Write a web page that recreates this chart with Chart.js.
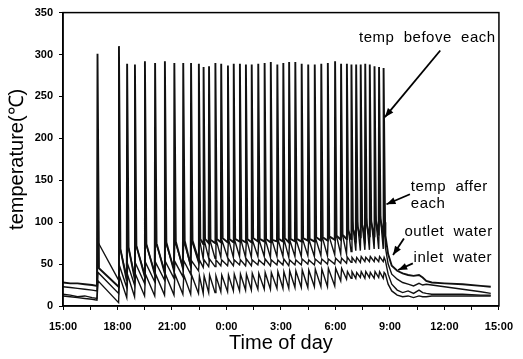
<!DOCTYPE html>
<html><head><meta charset="utf-8">
<script src="https://cdn.jsdelivr.net/npm/chart.js@4.4.1/dist/chart.umd.min.js"></script>
<style>html,body{margin:0;padding:0;background:#fff;}#wrap{width:523px;height:359px;}</style>
</head><body><div id="wrap"><canvas id="c" width="523" height="359"></canvas></div>
<script>
// ---- data (hours after 15:00) ----
const xTickLabels = ['15:00','18:00','21:00','0:00','3:00','6:00','9:00','12:00','15:00'];
const yTickValues = [0,50,100,150,200,250,300,350];

const cycleTimes = [1.88,3.06,3.51,3.94,4.49,5.05,5.59,6.11,6.60,7.03,
  7.46,7.72,8.02,8.37,8.69,9.06,9.38,9.72,10.05,10.37,10.73,11.08,11.42,11.78,12.11,12.43,
  12.77,13.12,13.48,13.84,14.20,14.56,14.96,15.29,15.61,15.86,16.12,16.37,16.62,16.87,17.13,17.38,17.63];
const spikePeaks = [301,310,289,288,292,290,292,290,290,290,
  289,285,286,290,289,287,289,289,288,288,289,290,291,288,290,291,
  291,289,288,288,289,290,292,289,289,288,288,288,289,288,286,285,284];

const beforeRest = [45, 68,70,72,74,75,76,77,78,78,
  80,80,79,80,81,80,80,79,80,81,80,80,79,80,81,80,80,81,80,82,82,83,84,85,
  90,92,95,97,98,100,102,104,100];
const beforeLow = [23, 30,33,36,38,40,42,45,48,55,
  74,75,75,76,76,76,77,76,76,77,77,76,77,77,76,77,77,78,77,78,78,79,79,80,
  80,81,82,82,83,83,84,84,84];

const afterHigh = [76, 72,74,75,76,77,77,78,78,79,
  80,79,80,80,79,80,80,81,80,79,80,80,81,80,80,79,80,81,80,82,84,86,88,90,
  100,105,108,110,112,115,112,118,120];
const afterLow = [31, 34,36,38,40,42,44,46,48,52,
  56,57,57,58,58,58,59,58,58,59,59,58,59,59,58,59,59,60,59,60,60,61,62,62,
  65,66,66,67,67,68,68,68,68];

const outletHigh = [40, 48,50,51,52,52,53,53,54,54,
  55,55,56,55,55,56,55,55,56,55,55,56,55,55,56,55,55,56,55,56,56,56,57,57,
  58,58,58,59,58,59,58,59,58];
const outletLow = [15, 22,25,27,29,31,33,35,38,42,
  46,47,47,48,48,48,49,48,48,49,49,48,49,49,48,49,49,50,49,50,50,50,51,51,
  52,52,52,53,53,53,53,53,53];

const inletHigh = [30, 36,37,38,38,38,38,38,37,37,
  36,36,37,36,37,37,38,38,38,39,39,40,40,41,41,42,42,43,43,44,44,45,45,45,
  41,41,40,41,41,40,41,41,40];
const inletLow = [4, 10,11,12,12,13,13,14,14,15,
  15,16,16,17,17,18,18,19,19,20,20,20,21,21,21,22,22,22,23,23,23,24,30,32,
  33,33,34,33,34,33,34,33,34];

const preTimes = [0,0.4,0.8,1.2,1.6,1.87];
const beforePre = [28,27,27,26,25,24];
const afterPre = [23,22,21,20,19,18];
const outletPre = [14,13,11,12,10,9];
const inletPre = [12,11,10,9,8,7];

const tailTimes = [17.75,17.90,18.10,18.40,18.70,19.00,19.30,19.60,19.80,20.00,20.30,21.00,22.00,23.00,23.55];
const beforeTail = [84,62,48,42,39,37,36,37,34,30,28,27,26,24,23];
const afterTail = [70,50,38,32,28,26,24,27,25,26,25,23,20,17,15];
const outletTail = [54,38,26,19,16,18,15,19,16,15,14,14,14,13,13];
const inletTail = [38,26,18,13,11,12,10,12,11,11,12,12,12,12,12];

// ---- build point tables ----
function build(preV, highs, rests, lows, tailV, rise, rest) {
  const pts = preTimes.map((t, i) => ({x: t, y: preV[i]}));
  const n = cycleTimes.length;
  for (let i = 0; i < n; i++) {
    const t = cycleTimes[i];
    pts.push({x: t + rise, y: highs[i]});
    if (rests) pts.push({x: t + rest, y: rests[i]});
    if (i < n - 1) pts.push({x: cycleTimes[i + 1], y: lows[i]});
  }
  tailTimes.forEach((t, i) => pts.push({x: t, y: tailV[i]}));
  return pts;
}
const sBefore = build(beforePre, spikePeaks, beforeRest, beforeLow, beforeTail, 0.02, 0.1);
const sAfter = build(afterPre, afterHigh, null, afterLow, afterTail, 0.05);
const sOutlet = build(outletPre, outletHigh, null, outletLow, outletTail, 0.05);
const sInlet = build(inletPre, inletHigh, null, inletLow, inletTail, 0.05);

const notes = [
  {lines: ['temp  befove  each'], x: 16.3, y: 320, arrow: [20.77, 304.8, 17.72, 225.3]},
  {lines: ['temp  affer', 'each'], x: 19.15, y: 142, arrow: [19.1, 133.3, 17.81, 121.4]},
  {lines: ['outlet  water'], x: 18.8, y: 88.5, arrow: [18.77, 80.6, 18.17, 60.7]},
  {lines: ['inlet  water'], x: 19.3, y: 58, arrow: [19.26, 50.8, 18.45, 42.9]}
];

const framePlugin = {
  id: 'frame',
  afterDatasetsDraw(chart) {
    const {ctx, chartArea: a, scales} = chart;
    ctx.save();
    ctx.strokeStyle = '#000';
    ctx.lineWidth = 1.5;
    ctx.strokeRect(a.left, a.top, a.right - a.left, a.bottom - a.top);
    ctx.fillStyle = '#000';
    ctx.font = '15px "Liberation Sans", Arial, sans-serif';
    try { ctx.letterSpacing = '0.5px'; } catch (e) {}
    ctx.textBaseline = 'middle';
    ctx.textAlign = 'left';
    notes.forEach(n => {
      const px = scales.x.getPixelForValue(n.x);
      let py = scales.y.getPixelForValue(n.y);
      n.lines.forEach((l, k) => ctx.fillText(l, px, py + k * 17));
      const [x1, y1, x2, y2] = n.arrow;
      const ax = scales.x.getPixelForValue(x1), ay = scales.y.getPixelForValue(y1);
      const bx = scales.x.getPixelForValue(x2), by = scales.y.getPixelForValue(y2);
      ctx.lineWidth = 1.8;
      ctx.beginPath(); ctx.moveTo(ax, ay); ctx.lineTo(bx, by); ctx.stroke();
      const ang = Math.atan2(by - ay, bx - ax), L = 9, W = 3.5;
      ctx.beginPath();
      ctx.moveTo(bx, by);
      ctx.lineTo(bx - L * Math.cos(ang) + W * Math.sin(ang), by - L * Math.sin(ang) - W * Math.cos(ang));
      ctx.lineTo(bx - L * Math.cos(ang) - W * Math.sin(ang), by - L * Math.sin(ang) + W * Math.cos(ang));
      ctx.closePath(); ctx.fill();
    });
    ctx.restore();
  }
};

const ds = (label, data, w) => ({label, data, borderColor: '#111', borderWidth: w, pointRadius: 0, tension: 0, fill: false});

new Chart(document.getElementById('c'), {
  type: 'line',
  data: {datasets: [ds('temp before each', sBefore, 1.9), ds('temp after each', sAfter, 1.4), ds('outlet water', sOutlet, 1.4), ds('inlet water', sInlet, 1.4)]},
  plugins: [framePlugin],
  options: {
    responsive: false, animation: false, devicePixelRatio: 1,
    layout: {padding: {top: 12, right: 16, left: 0, bottom: 0}},
    plugins: {legend: {display: false}, tooltip: {enabled: false}},
    scales: {
      x: {
        type: 'linear', min: 0, max: 24,
        afterFit: s => { s.height = 53; },
        afterBuildTicks: s => { s.ticks = []; for (let v = 0; v <= 24; v += 1.5) s.ticks.push({value: v}); },
        ticks: {autoSkip: false, maxRotation: 0, padding: 10, color: '#000',
          font: {family: '"Liberation Sans", Arial, sans-serif', size: 11, weight: 'bold'},
          callback: v => (v % 3 === 0 ? xTickLabels[v / 3] : '')},
        grid: {drawOnChartArea: false, drawTicks: true, tickLength: 4, color: '#000'},
        border: {color: '#000', width: 1.5},
        title: {display: true, text: 'Time of day', color: '#000',
          font: {family: '"Liberation Sans", Arial, sans-serif', size: 20}, padding: {top: 0, bottom: 4}}
      },
      y: {
        min: 0, max: 350,
        afterFit: s => { s.width = 63; },
        afterBuildTicks: s => { s.ticks = yTickValues.map(v => ({value: v})); },
        ticks: {padding: 6, color: '#000',
          font: {family: '"Liberation Sans", Arial, sans-serif', size: 11, weight: 'bold'}},
        grid: {drawOnChartArea: false, drawTicks: true, tickLength: 4, color: '#000'},
        border: {color: '#000', width: 1.5},
        title: {display: true, text: 'temperature(℃)', color: '#000',
          font: {family: '"Liberation Sans", Arial, sans-serif', size: 20}, padding: {top: 5, bottom: 0}}
      }
    }
  }
});
</script></body></html>
